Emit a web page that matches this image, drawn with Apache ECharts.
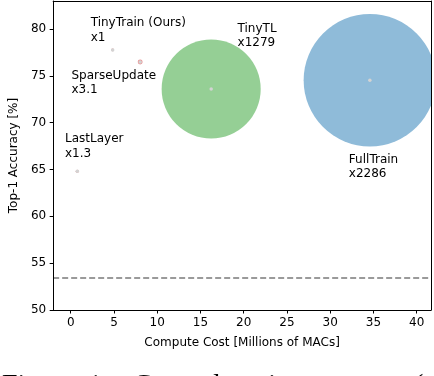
<!DOCTYPE html>
<html>
<head>
<meta charset="utf-8">
<script src="https://cdn.jsdelivr.net/npm/echarts@6/dist/echarts.min.js"></script>
<style>
  html, body { margin: 0; padding: 0; background: #fff; }
  #chart { width: 434px; height: 376px; }
</style>
</head>
<body>
<div id="chart"></div>
<script>
// data
var methods = ['TinyTrain (Ours)', 'SparseUpdate', 'LastLayer', 'TinyTL', 'FullTrain'];
var computeCost = [4.85, 8.03, 0.76, 16.24, 34.59];   // millions of MACs
var accuracy = [77.77, 76.49, 64.82, 73.6, 74.54];     // top-1 %
var memRatio = [1, 3.1, 1.3, 1279, 2286];              // bubble area ~ ratio
var baseline = [53.45];
var xTicks = [0, 5, 10, 15, 20, 25, 30, 35, 40];
var yTicks = [50, 55, 60, 65, 70, 75, 80];

// styles only
var bubbleColors = ['#eb9393', '#eb9393', '#eb9393', '#95cf95', '#8fbbd9'];
var labelOffsets = [[-22, -19.5], [-68.7, 21], [-12.3, -24.7], [26.4, -53.3], [-21, 86.7]];
var font = 'DejaVu Sans';

var pageChart = document.getElementById('chart');
var myChart = echarts.init(pageChart); // 初始化

var bubbles = methods.map(function (m, i) {
    return {
        name: m,
        value: [computeCost[i], accuracy[i], memRatio[i]],
        itemStyle: { color: bubbleColors[i], opacity: 1 },
        label: { offset: labelOffsets[i] }
    };
});
var dots = methods.map(function (m, i) {
    return [computeCost[i], accuracy[i]];
});

var axisLine = { show: true, onZero: false, lineStyle: { color: '#000', width: 1 } };

var option = {
    animation: false,
    backgroundColor: '#fff',
    grid: { left: 50, right: 3, top: 1, bottom: 66 },
    xAxis: [{
        type: 'value', min: -2.03, max: 41.66, z: 10,
        name: 'Compute Cost [Millions of MACs]', nameLocation: 'middle', nameGap: 27,
        nameTextStyle: { fontFamily: font, fontSize: 12, color: '#000' },
        axisLine: axisLine,
        axisTick: { show: true, length: 3.5, customValues: xTicks, lineStyle: { color: '#000' } },
        axisLabel: { customValues: xTicks, fontFamily: font, fontSize: 12, color: '#000', margin: 7 },
        splitLine: { show: false }
    }, {
        type: 'value', position: 'top', min: -2.03, max: 41.66, z: 10,
        axisLine: axisLine, axisTick: { show: false }, axisLabel: { show: false }, splitLine: { show: false }
    }],
    yAxis: [{
        type: 'value', min: 50, max: 83, z: 10,
        name: 'Top-1 Accuracy [%]', nameLocation: 'middle', nameGap: 33,
        nameTextStyle: { fontFamily: font, fontSize: 12, color: '#000' },
        axisLine: axisLine,
        axisTick: { show: true, length: 3.5, customValues: yTicks, lineStyle: { color: '#000' } },
        axisLabel: { customValues: yTicks, fontFamily: font, fontSize: 12, color: '#000', margin: 7 },
        splitLine: { show: false }
    }, {
        type: 'value', position: 'right', min: 50, max: 83, z: 10,
        axisLine: axisLine, axisTick: { show: false }, axisLabel: { show: false }, splitLine: { show: false }
    }],
    series: [{
        type: 'scatter',
        data: bubbles,
        symbolSize: function (v) { return 2.77 * Math.sqrt(v[2]); },
        label: {
            show: true, position: 'inside', align: 'left', verticalAlign: 'middle',
            fontFamily: font, fontSize: 12, lineHeight: 14.4, color: '#000',
            formatter: function (p) { return p.name + '\nx' + p.value[2]; }
        },
        emphasis: { disabled: true },
        markLine: {
            silent: true, symbol: 'none', label: { show: false },
            lineStyle: { color: '#9a9a9a', width: 1.8, type: [6, 3] },
            data: baseline.map(function (b) { return { yAxis: b }; })
        }
    }, {
        type: 'scatter',
        data: dots,
        symbolSize: 3.5,
        itemStyle: { color: '#d3d3d3', opacity: 1 },
        emphasis: { disabled: true },
        z: 3
    }],
    graphic: [
        // mask the bubble overflow past the right spine
        { type: 'rect', right: 0, top: 0, z: 5, shape: { width: 2.5, height: 310 }, style: { fill: '#fff' } },
        { type: 'text', left: 2, top: 372, style: { text: 'Figure', font: '28px "Liberation Serif"', fill: '#000' } },
        { type: 'text', left: 88, top: 372, style: { text: '1:', font: '28px "Liberation Serif"', fill: '#000' } },
        { type: 'text', left: 133, top: 372, style: { text: 'Cross-domain', font: '28px "Liberation Serif"', fill: '#000' } },
        { type: 'text', left: 306, top: 372, style: { text: 'accuracy', font: '28px "Liberation Serif"', fill: '#000' } },
        { type: 'text', left: 414, top: 372, style: { text: '(', font: '28px "Liberation Serif"', fill: '#000' } }
    ]
};
myChart.setOption(option);
</script>
</body>
</html>
